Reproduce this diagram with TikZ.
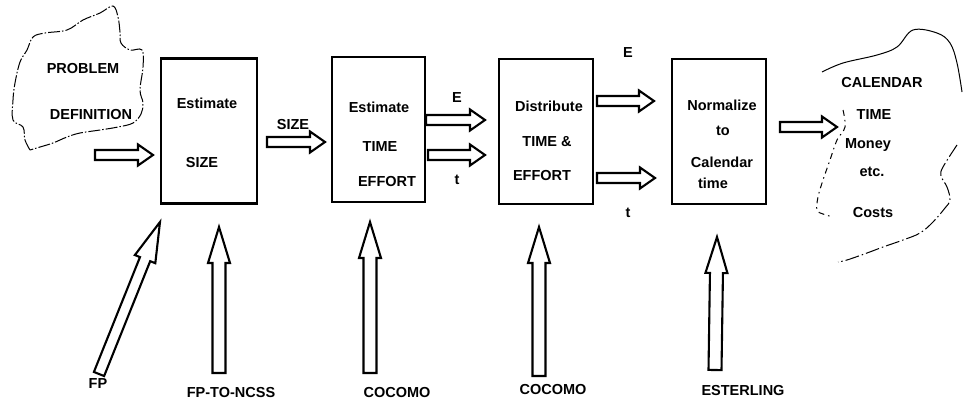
\documentclass[tikz,border=0pt]{standalone}
\usepackage{fontspec}
\setmainfont{Liberation Sans}
\usetikzlibrary{calc}
\newcommand{\barrow}[5]{%
  \path let \p1=($(#2)-(#1)$), \n1={veclen(\x1,\y1)} in ($(#1)!{(\n1-#5)*1pt}!(#2)$) coordinate (hb);
  \draw[blk] ($(#1)!#3!90:(#2)$) -- ($(hb)!#3!90:(#2)$) -- ($(hb)!#4!90:(#2)$) -- (#2)
     -- ($(hb)!#4!-90:(#2)$) -- ($(hb)!#3!-90:(#2)$) -- ($(#1)!#3!-90:(#2)$) -- cycle;}
\begin{document}
\begin{tikzpicture}[x=1pt,y=-1pt,
  box/.style={draw, line width=2.3pt, minimum width=#1, minimum height=145pt, inner sep=0pt},
  lbl/.style={font=\bfseries\fontsize{14.5}{16}\selectfont, inner sep=0pt, anchor=center},
  blk/.style={draw, line width=2.1pt, fill=white, line join=miter},
  cloud/.style={line width=1pt, dash pattern=on 12pt off 2pt on 1.5pt off 2pt}]
\useasboundingbox (0,0) rectangle (963,400);

% clouds
\draw[cloud] plot[smooth, tension=0.6] coordinates {(30,150) (25,140) (23,127) (13,120) (13,100) (15,83) (20,62) (27,50) (33,37) (45,33) (67,30) (83,20) (100,13) (113,6) (118,17) (120,32) (121,43) (130,50) (142,50) (143,67) (140,90) (143,103) (141,114) (133,123) (118,127) (100,130) (80,133) (67,137) (53,143) (40,147) (30,150)};
\draw[line width=1pt] plot[smooth, tension=0.6] coordinates {(822,72) (843,63) (877,55) (897,47) (913,30) (937,33) (950,43) (957,63) (962,92)};
\draw[line width=1pt, dash pattern=on 14pt off 3pt on 1.5pt off 3pt] plot[smooth, tension=0.6] coordinates {(957,145) (943,167) (941,176) (947,187) (950,200) (945,208) (933,222) (920,233) (903,240) (883,247) (867,253) (847,260) (838,262)};
\draw[line width=1pt, dash pattern=on 6pt off 4pt on 1.5pt off 4pt] plot[smooth, tension=0.6] coordinates {(843,110) (845,127) (837,140) (830,160) (823,180) (818,197) (817,210) (823,214) (833,217)};

% boxes
\node[box=96pt] (b1) at (209,131) {};
\node[box=93pt] (b2) at (378.5,129.5) {};
\node[box=94pt] (b3) at (546,131.5) {};
\node[box=94pt] (b4) at (719,131.5) {};

% texts
\node[lbl] (pd1) at (83,69) {PROBLEM};
\node[lbl] (pd2) at (91,115) {DEFINITION};
\node[lbl] (e1a) at (207,103) {Estimate};
\node[lbl] (e1b) at (202,163) {SIZE};
\node[lbl] (sz) at (293,125) {SIZE};
\node[lbl] (e2a) at (379,107) {Estimate};
\node[lbl] (e2b) at (380,147) {TIME};
\node[lbl] (e2c) at (387,182) {EFFORT};
\node[lbl] (lE1) at (457,98) {E};
\node[lbl] (lt1) at (457,180) {t};
\node[lbl] (d3a) at (549,106) {Distribute};
\node[lbl] (d3b) at (547,142) {TIME \&};
\node[lbl] (d3c) at (542,176) {EFFORT};
\node[lbl] (lE2) at (628,53) {E};
\node[lbl] (lt2) at (628,213) {t};
\node[lbl] (n4a) at (722,105) {Normalize};
\node[lbl] (n4b) at (723,131) {to};
\node[lbl] (n4c) at (722,162) {Calendar};
\node[lbl] (n4d) at (713,183) {time};
\node[lbl] (o1) at (882,83) {CALENDAR};
\node[lbl] (o2) at (874,115) {TIME};
\node[lbl] (o3) at (868,145) {Money};
\node[lbl] (o4) at (872,172) {etc.};
\node[lbl] (o5) at (873,213) {Costs};
\node[lbl] (fp) at (98,384) {FP};
\node[lbl] (fpn) at (231,392) {FP-TO-NCSS};
\node[lbl] (c1) at (397,392) {COCOMO};
\node[lbl] (c2) at (553,389) {COCOMO};
\node[lbl] (es) at (743,390) {ESTERLING};

% arrow end points
\coordinate (h0s) at (95,155);  \coordinate (h0e) at (153,155);
\coordinate (h1s) at (267,142); \coordinate (h1e) at (325,142);
\coordinate (h2s) at (426,120); \coordinate (h2e) at (485,120);
\coordinate (h3s) at (428,155); \coordinate (h3e) at (485,155);
\coordinate (h4s) at (597,101); \coordinate (h4e) at (654,101);
\coordinate (h5s) at (597,178); \coordinate (h5e) at (655,178);
\coordinate (h6s) at (780,127); \coordinate (h6e) at (837,127);
\coordinate (v0s) at (99,374);  \coordinate (v0e) at (160,222);
\coordinate (v1s) at (219,373); \coordinate (v1e) at (219,227);
\coordinate (v2s) at (370,373); \coordinate (v2e) at (370,222);
\coordinate (v3s) at (539,376); \coordinate (v3e) at (539,227);
\coordinate (v4s) at (715,370); \coordinate (v4e) at (717,237);

% horizontal block arrows
\barrow{h0s}{h0e}{5pt}{10.5pt}{15}
\barrow{h1s}{h1e}{5pt}{10.5pt}{15}
\barrow{h2s}{h2e}{5pt}{10.5pt}{15}
\barrow{h3s}{h3e}{5pt}{10.5pt}{15}
\barrow{h4s}{h4e}{5pt}{10.5pt}{15}
\barrow{h5s}{h5e}{5pt}{10.5pt}{15}
\barrow{h6s}{h6e}{5pt}{10.5pt}{15}
% vertical block arrows
\barrow{v0s}{v0e}{5.5pt}{11pt}{40}
\barrow{v1s}{v1e}{6.5pt}{11pt}{36}
\barrow{v2s}{v2e}{6.5pt}{11pt}{36}
\barrow{v3s}{v3e}{6.5pt}{11pt}{36}
\barrow{v4s}{v4e}{6.5pt}{11pt}{36}
\end{tikzpicture}
\end{document}
